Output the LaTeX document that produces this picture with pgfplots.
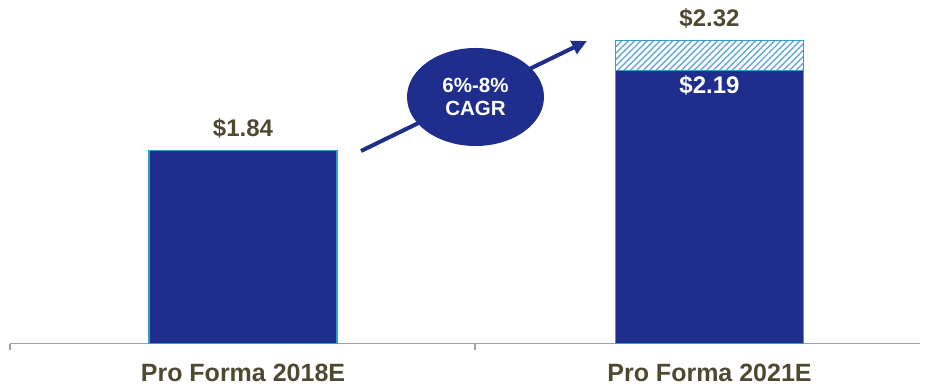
\documentclass[border=0pt]{standalone}
\usepackage{fontspec}
\setmainfont{Liberation Sans}
\usepackage{pgfplots}
\pgfplotsset{compat=1.18}
\usetikzlibrary{patterns.meta,arrows.meta,shapes.geometric}
\definecolor{barblue}{RGB}{31,46,140}
\definecolor{edgeblue}{RGB}{52,155,205}
\definecolor{hatchblue}{RGB}{95,170,215}
\definecolor{labeltext}{RGB}{78,74,50}
\definecolor{axisgray}{RGB}{160,160,160}

\begin{document}
\begin{tikzpicture}
\begin{axis}[
  scale only axis, width=910pt, height=343.5pt,
  xmin=10, xmax=920, ymin=1, ymax=2.4967,
  ybar stacked, bar width=188pt,
  axis x line*=bottom, axis y line=none,
  axis line style={axisgray, line width=1.4pt, -},
  xtick={243,709.5}, xticklabels={Pro Forma 2018E, Pro Forma 2021E},
  major tick length=0pt,
  xticklabel style={anchor=base, yshift=-38pt,
    font=\fontsize{25}{30}\selectfont\bfseries, text=labeltext},
  extra x ticks={10,475}, extra x tick labels={},
  extra x tick style={major tick length=6pt, tick align=outside,
    tick style={axisgray, line width=1.2pt}},
  ytick=\empty,
]
% base value of each year
\addplot[fill=barblue, draw=edgeblue, line width=1.2pt]
  coordinates {(243,1.84) (709.5,2.19)};
% upside range on top of the 2021 base
\addplot[draw=edgeblue, line width=1.2pt,
  pattern={Lines[angle=45,distance=4.5pt,line width=1.4pt]}, pattern color=hatchblue]
  coordinates {(243,0) (709.5,0.13)};

\coordinate (v184) at (axis cs:243,1.84);
\coordinate (v219) at (axis cs:709.5,2.19);
\coordinate (v232) at (axis cs:709.5,2.32);
\coordinate (tail) at (axis cs:361,1.8388);
\coordinate (tip)  at (axis cs:587,2.3181);
\coordinate (ell)  at (axis cs:475.5,2.0741);
\end{axis}

\begin{scope}[font=\fontsize{24}{28}\selectfont\bfseries]
  \node[anchor=base, yshift=14.5pt, text=labeltext, inner sep=0] at (v184) {\$1.84};
  \node[anchor=base, yshift=14.4pt, text=labeltext, inner sep=0] at (v232) {\$2.32};
  \node[anchor=base, yshift=-23pt, text=white, inner sep=0] at (v219) {\$2.19};
\end{scope}

\draw[barblue, line width=4pt, -{Triangle[length=15pt,width=14pt]}] (tail) -- (tip);
\node[ellipse, fill=barblue, minimum width=137pt, minimum height=98pt, inner sep=0,
  text=white, align=center, font=\fontsize{20.5}{23}\selectfont\bfseries]
  at (ell) {6\%-8\%\\CAGR};

\pgfresetboundingbox
\path[use as bounding box] ([xshift=-10pt,yshift=-45.5pt]current axis.south west)
  rectangle ([xshift=12pt]current axis.north east);
\end{tikzpicture}
\end{document}
